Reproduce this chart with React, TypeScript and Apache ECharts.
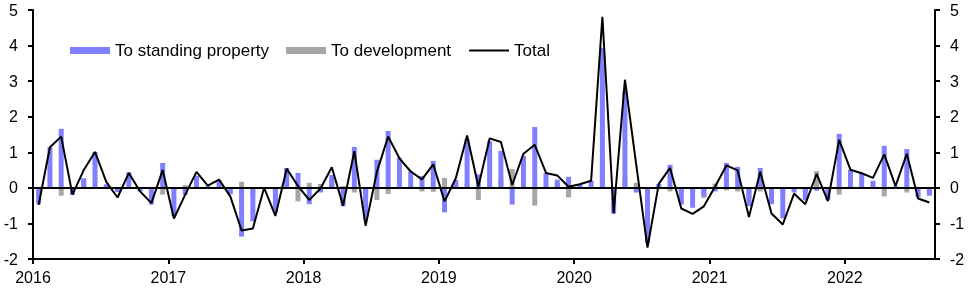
import React, { useEffect, useRef } from "react";
import * as echarts from "echarts";

const startYear = 2016;
const months: string[] = Array.from({ length: 80 }, (_, i) => `${startYear + Math.floor(i / 12)}-${String((i % 12) + 1).padStart(2, "0")}`);

const standing: number[] = [
  -0.46, 1.14, 1.66, -0.2, 0.27, 1.01, 0.1, -0.12, 0.44, -0.1, -0.47, 0.7,
  -0.78, -0.2, 0.34, 0.05, 0.22, -0.18, -1.37, -0.94, 0.0, -0.69, 0.56, 0.42,
  -0.46, -0.13, 0.36, -0.52, 1.15, -0.87, 0.79, 1.6, 0.85, 0.46, 0.33, 0.76,
  -0.69, 0.22, 1.37, 0.38, 1.31, 1.04, -0.47, 0.9, 1.71, 0.42, 0.23, 0.31,
  0.08, 0.2, 3.94, -0.72, 2.73, -0.13, -1.55, 0.11, 0.65, -0.47, -0.56, -0.24,
  -0.1, 0.7, 0.59, -0.51, 0.56, -0.46, -0.86, -0.13, -0.35, -0.08, -0.34, 1.52,
  0.51, 0.41, 0.2, 1.18, 0.05, 1.09, -0.27, -0.22,
];

const development: number[] = [
  0, 0, -0.22, 0, 0.23, 0, 0.07, -0.08, 0, 0, 0, -0.19,
  -0.08, 0.08, 0.11, 0.02, 0.02, -0.08, 0.17, -0.2, 0, -0.1, 0, -0.38,
  0.14, 0.11, 0.22, 0.05, -0.13, -0.2, -0.34, -0.17, 0, 0, -0.1, -0.11,
  0.28, 0.05, 0.1, -0.34, 0.08, 0.25, 0.53, 0.06, -0.5, 0, 0.12, -0.27,
  0, 0, 0.87, 0, 0.31, 0.14, -0.13, 0, -0.1, -0.11, -0.17, -0.28,
  0.12, -0.07, -0.1, -0.31, -0.1, -0.26, -0.17, -0.03, -0.11, 0.47, -0.03, -0.19,
  0, 0, 0.07, -0.24, 0, -0.13, -0.03, -0.19,
];

const total: number[] = [
  -0.48, 1.14, 1.44, -0.19, 0.5, 1.01, 0.17, -0.27, 0.42, -0.1, -0.43, 0.5,
  -0.86, -0.19, 0.45, 0.06, 0.23, -0.24, -1.2, -1.14, 0.0, -0.79, 0.54, 0.05,
  -0.34, -0.02, 0.58, -0.5, 1.03, -1.07, 0.45, 1.44, 0.83, 0.46, 0.24, 0.66,
  -0.38, 0.27, 1.47, 0.04, 1.39, 1.29, 0.08, 0.96, 1.21, 0.42, 0.35, 0.03,
  0.1, 0.2, 4.81, -0.72, 3.04, 0.65, -1.68, 0.11, 0.56, -0.58, -0.73, -0.52,
  0.04, 0.63, 0.49, -0.82, 0.45, -0.72, -1.03, -0.16, -0.46, 0.39, -0.37, 1.35,
  0.51, 0.41, 0.28, 0.94, 0.05, 0.96, -0.3, -0.41,
];

const yTicks = { min: -2, max: 5, interval: 1 };

const FONT = "'Liberation Sans', Arial, sans-serif";

export default function App() {
  const ref = useRef<HTMLDivElement>(null);
  useEffect(() => {
    if (!ref.current) return;
    const chart = echarts.init(ref.current, undefined, { renderer: "svg" });
    const pos = (i: number) => i + 0.5;
    const axisCommon = {
      type: "value" as const,
      min: yTicks.min,
      max: yTicks.max,
      interval: yTicks.interval,
      splitLine: { show: false },
      axisLine: { show: true, lineStyle: { color: "#000", width: 2 } },
      axisTick: { show: true, inside: false, length: 5, lineStyle: { color: "#000", width: 2 } },
      axisLabel: { color: "#000", fontSize: 16, fontFamily: FONT, margin: 15 },
    };
    chart.setOption({
      animation: false,
      textStyle: { fontFamily: FONT },
      grid: { left: 33, right: 33, top: 10, bottom: 37, containLabel: false },
      legend: {
        left: 70,
        top: 42,
        padding: 0,
        itemWidth: 40,
        itemHeight: 7,
        itemGap: 17,
        textStyle: { color: "#000", fontSize: 17, fontFamily: FONT },
        data: [
          { name: "To standing property", icon: "rect" },
          { name: "To development", icon: "rect" },
          { name: "Total", itemStyle: { opacity: 0, color: "transparent", borderWidth: 0 } },
        ],
      },
      xAxis: {
        type: "value",
        min: 0,
        max: months.length,
        interval: 12,
        splitLine: { show: false },
        axisLine: { show: true, onZero: false, lineStyle: { color: "#000", width: 2 } },
        axisTick: { show: true, length: 5, lineStyle: { color: "#000", width: 2 } },
        axisLabel: {
          color: "#000",
          fontSize: 16,
          fontFamily: FONT,
          margin: 10,
          showMaxLabel: false,
          formatter: (v: number) => (v % 12 === 0 ? String(startYear + v / 12) : ""),
        },
      },
      yAxis: [
        { ...axisCommon, position: "left" },
        { ...axisCommon, position: "right" },
      ],
      series: [
        {
          name: "To development",
          type: "bar",
          stack: "s",
          barWidth: 5,
          itemStyle: { color: "#a6a6a6" },
          data: development.map((v, i) => [pos(i), v]),
        },
        {
          name: "To standing property",
          type: "bar",
          stack: "s",
          barWidth: 5,
          itemStyle: { color: "#8080ff" },
          data: standing.map((v, i) => [pos(i), v]),
        },
        {
          name: "Total",
          type: "line",
          symbol: "none",
          showSymbol: false,
          lineStyle: { color: "#000", width: 2 },
          itemStyle: { color: "#000" },
          data: total.map((v, i) => [pos(i), v]),
          markLine: {
            silent: true,
            symbol: ["none", "none"],
            label: { show: false },
            lineStyle: { color: "#000", width: 2, type: "solid" },
            data: [{ yAxis: 0 }],
          },
          z: 5,
        },
      ],
    });
    return () => chart.dispose();
  }, []);
  return <div ref={ref} style={{ position: "fixed", left: 0, top: 0, width: 968, height: 296 }} />;
}
